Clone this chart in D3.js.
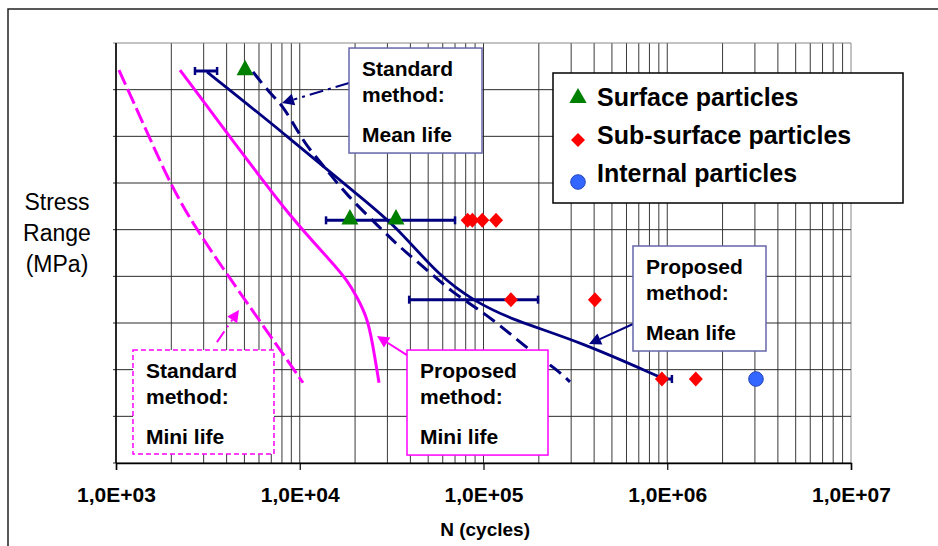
<!DOCTYPE html>
<html>
<head>
<meta charset="utf-8">
<script src="https://cdn.jsdelivr.net/npm/d3@7/dist/d3.min.js"></script>
<style>
  html, body { margin: 0; padding: 0; background: #fff; }
  svg { display: block; font-family: "Liberation Sans", Arial, sans-serif; }
</style>
</head>
<body>
<svg id="chart" width="938" height="546"></svg>
<script>
// ---------------- data ----------------
const xTickValues = [1e3, 1e4, 1e5, 1e6, 1e7];
const xTickLabels = ["1,0E+03", "1,0E+04", "1,0E+05", "1,0E+06", "1,0E+07"];
const yGridValues = [0, 50, 100, 150, 200, 250, 300, 350, 400, 450];

// Standard method: Mini life (magenta dashed)
const stdMiniN = [1038, 1456, 2017, 2691, 3775, 5362, 7519, 10416];
const stdMiniS = [421, 357, 295, 253, 210, 167, 126, 86];
// Proposed method: Mini life (magenta solid)
const propMiniN = [2230, 4730, 9190, 15170, 18080, 20490, 23220, 24730, 27000];
const propMiniS = [421, 335, 260, 214, 196, 178, 156, 132, 86];
// Standard method: Mean life (navy dashed)
const stdMeanN = [5568, 6889, 8006, 9661, 10950, 14070, 17630, 27340, 35130, 49270, 67390, 92170, 127700, 172500, 251200, 295600];
const stdMeanS = [419, 396, 384, 357, 339, 314, 289, 252, 231, 207, 183, 166, 145, 123, 100, 87];
// Proposed method: Mean life (navy solid)
const propMeanN = [3128, 8106, 21280, 32990, 58000, 89900, 144700, 335000, 936000];
const propMeanS = [419, 354, 285, 255, 199, 173, 153, 130, 91];

// scatter bands (navy horizontal bars)
const bandS  = [420, 260, 175, 90];
const bandLo = [2690, 13900, 39400, 914000];
const bandHi = [3550, 70000, 198000, 1060000];

// particles
const surfaceN = [5040, 18750, 33400];
const surfaceS = [420, 260, 260];
const subSurfaceN = [82000, 87000, 98500, 117000, 141000, 404000, 935000, 1430000];
const subSurfaceS = [260, 260, 260, 260, 175, 175, 90, 90];
const internalN = [3040000];
const internalS = [90];

const legendLabels = ["Surface particles", "Sub-surface particles", "Internal particles"];
const calloutTexts = [
  ["Standard", "method:", "Mean life"],
  ["Proposed", "method:", "Mean life"],
  ["Proposed", "method:", "Mini life"],
  ["Standard", "method:", "Mini life"]
];

// ---------------- layout ----------------
const NAVY = "#000080", MAG = "#ff00ff", GREEN = "#008000", RED = "#ff0000", BLUE = "#3366ff";
const svg = d3.select("#chart");
const x = d3.scaleLog().domain([1e3, 1e7]).range([116, 851]);
const y = d3.scaleLinear().domain([0, 450]).range([463, 43]);

// outer frame
svg.append("path").attr("d", "M8,546 L8,9 L938,9")
  .attr("fill", "none").attr("stroke", "#222").attr("stroke-width", 1.5);

// grid: vertical log lines
const vlines = [];
for (let d = 3; d < 7; d++) for (let m = 1; m <= 9; m++) vlines.push(m * Math.pow(10, d));
vlines.push(1e7);
const grid = svg.append("g");
grid.selectAll("line.v").data(vlines).join("line")
  .attr("x1", d => x(d)).attr("x2", d => x(d))
  .attr("y1", y(450)).attr("y2", y(0))
  .attr("stroke", d => d === 1e7 ? "#888" : "#3a3a3a").attr("stroke-width", 1);
grid.selectAll("line.h").data(yGridValues).join("line")
  .attr("x1", x(1e3) - 3).attr("x2", x(1e7))
  .attr("y1", d => y(d)).attr("y2", d => y(d))
  .attr("stroke", d => d === 450 ? "#888" : "#2a2a2a").attr("stroke-width", 1);

// axes
const xAxis = d3.axisBottom(x).tickValues(xTickValues)
  .tickFormat((d, i) => xTickLabels[i]).tickSize(7).tickPadding(17);
const gx = svg.append("g").attr("transform", `translate(0,${y(0)})`).call(xAxis);
gx.select(".domain").attr("stroke", "#000").attr("stroke-width", 1.5);
gx.selectAll(".tick line").attr("stroke", "#000").attr("stroke-width", 1.2);
gx.selectAll(".tick text").attr("font-size", 21).attr("font-weight", "bold")
  .attr("fill", "#000").attr("font-family", "Liberation Sans, Arial, sans-serif");
svg.append("line").attr("x1", x(1e3)).attr("x2", x(1e3)).attr("y1", y(450)).attr("y2", y(0))
  .attr("stroke", "#000").attr("stroke-width", 1.5);

svg.append("text").attr("x", x(1.02e5)).attr("y", 536)
  .attr("text-anchor", "middle").attr("font-size", 19).attr("font-weight", "bold")
  .text("N (cycles)");
const ylab = svg.append("text").attr("text-anchor", "middle").attr("font-size", 23);
["Stress", "Range", "(MPa)"].forEach((t, i) =>
  ylab.append("tspan").attr("x", 57).attr("y", 210 + i * 31).text(t));

// ---------------- series ----------------
const zip = (a, b) => a.map((v, i) => [v, b[i]]);
const line = d3.line().x(d => x(d[0])).y(d => y(d[1])).curve(d3.curveBasis);
const plot = svg.append("g");
plot.append("path").attr("d", line(zip(stdMiniN, stdMiniS)))
  .attr("fill", "none").attr("stroke", MAG).attr("stroke-width", 3).attr("stroke-dasharray", "16,5");
plot.append("path").attr("d", line(zip(propMiniN, propMiniS)))
  .attr("fill", "none").attr("stroke", MAG).attr("stroke-width", 3);
plot.append("path").attr("d", line(zip(stdMeanN, stdMeanS)))
  .attr("fill", "none").attr("stroke", NAVY).attr("stroke-width", 3).attr("stroke-dasharray", "14,7");
plot.append("path").attr("d", line(zip(propMeanN, propMeanS)))
  .attr("fill", "none").attr("stroke", NAVY).attr("stroke-width", 2.8);

// bands
bandS.forEach((s, i) => {
  const g = plot.append("g").attr("stroke", NAVY);
  g.append("line").attr("x1", x(bandLo[i])).attr("x2", x(bandHi[i]))
    .attr("y1", y(s)).attr("y2", y(s)).attr("stroke-width", 3);
  [bandLo[i], bandHi[i]].forEach(v =>
    g.append("line").attr("x1", x(v)).attr("x2", x(v))
      .attr("y1", y(s) - 4).attr("y2", y(s) + 4).attr("stroke-width", 2.5));
});

// markers
plot.selectAll("path.surf").data(zip(surfaceN, surfaceS)).join("path")
  .attr("d", d3.symbol().type(d3.symbolTriangle).size(125)())
  .attr("transform", d => `translate(${x(d[0])},${y(d[1]) - 1}) scale(1,1.05)`)
  .attr("fill", GREEN);
plot.selectAll("path.sub").data(zip(subSurfaceN, subSurfaceS)).join("path")
  .attr("d", "M0,-7.5L7,0L0,7.5L-7,0Z")
  .attr("transform", d => `translate(${x(d[0])},${y(d[1])})`)
  .attr("fill", RED);
plot.selectAll("circle.int").data(zip(internalN, internalS)).join("circle")
  .attr("cx", d => x(d[0])).attr("cy", d => y(d[1])).attr("r", 7.3)
  .attr("fill", BLUE).attr("stroke", "#2244bb").attr("stroke-width", 1);

// ---------------- callouts ----------------
function arrow(g, x0, y0, x1, y1, color, dash, w) {
  const ang = Math.atan2(y1 - y0, x1 - x0), L = 12, W = 6;
  const bx = x1 - L * Math.cos(ang), by = y1 - L * Math.sin(ang);
  g.append("line").attr("x1", x0).attr("y1", y0).attr("x2", bx).attr("y2", by)
    .attr("stroke", color).attr("stroke-width", w).attr("stroke-dasharray", dash || null);
  const px = -Math.sin(ang) * W, py = Math.cos(ang) * W;
  g.append("path").attr("d", `M${x1},${y1}L${bx + px},${by + py}L${bx - px},${by - py}Z`)
    .attr("fill", color);
}
const callouts = [
  { n: 18540, s: 444.6, w: 133, h: 105, stroke: "#6666aa", dash: null,
    tipN: 8006, tipS: 385.7, sx: 0, sy: 35, lineColor: NAVY, lineDash: "14,5,3,5" },
  { n: 651000, s: 232.5, w: 133, h: 105, stroke: "#6666aa", dash: null,
    tipN: 375000, tipS: 127.5, sx: 0, sy: 78, lineColor: NAVY, lineDash: null },
  { n: 38340, s: 121, w: 141, h: 105, stroke: MAG, dash: null,
    tipN: 26330, tipS: 136, sx: 0, sy: 5, lineColor: MAG, lineDash: null },
  { n: 1237, s: 121, w: 141, h: 104, stroke: MAG, dash: "5,3",
    tipN: 4670, tipS: 164, sx: 84, sy: -8, lineColor: MAG, lineDash: "13,5,2,5" }
];
const cg = svg.append("g");
callouts.forEach((c, i) => {
  const bx = x(c.n), by = y(c.s);
  arrow(cg, bx + c.sx, by + c.sy, x(c.tipN), y(c.tipS), c.lineColor, c.lineDash, 2);
  cg.append("rect").attr("x", bx).attr("y", by).attr("width", c.w).attr("height", c.h)
    .attr("fill", "#fff").attr("stroke", c.stroke).attr("stroke-width", 1.5)
    .attr("stroke-dasharray", c.dash);
  const offs = [27.5, 53.5, 93.5];
  calloutTexts[i].forEach((t, j) =>
    cg.append("text").attr("x", bx + 13).attr("y", by + offs[j])
      .attr("font-size", 21).attr("font-weight", "bold").attr("fill", "#000").text(t));
});

// ---------------- legend ----------------
const lg = svg.append("g").attr("transform", "translate(553,73)");
lg.append("rect").attr("width", 350).attr("height", 130)
  .attr("fill", "#fff").attr("stroke", "#000").attr("stroke-width", 1.5);
const rowY = [25, 67, 109];
lg.append("path").attr("d", d3.symbol().type(d3.symbolTriangle).size(130)())
  .attr("transform", `translate(25,${rowY[0]})`).attr("fill", GREEN);
lg.append("path").attr("d", "M0,-7L7,0L0,7L-7,0Z")
  .attr("transform", `translate(25,${rowY[1]})`).attr("fill", RED);
lg.append("circle").attr("cx", 25).attr("cy", rowY[2]).attr("r", 7.3)
  .attr("fill", BLUE).attr("stroke", "#2244bb");
legendLabels.forEach((t, i) =>
  lg.append("text").attr("x", 44).attr("y", [33, 71, 109][i])
    .attr("font-size", 25).attr("font-weight", "bold").attr("fill", "#000").text(t));
</script>
</body>
</html>
